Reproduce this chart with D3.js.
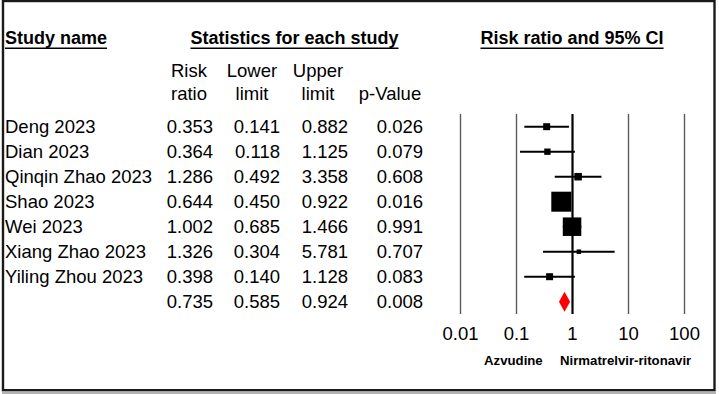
<!DOCTYPE html>
<html>
<head>
<meta charset="utf-8">
<script src="https://cdn.jsdelivr.net/npm/d3@7"></script>
<style>
  body { margin: 0; background: #fff; }
  svg text { font-family: "Liberation Sans", Arial, sans-serif; fill: #000; }
</style>
</head>
<body>
<div id="chart"></div>
<script>
// study rows
var studies = ['Deng 2023', 'Dian 2023', 'Qinqin Zhao 2023', 'Shao 2023', 'Wei 2023', 'Xiang Zhao 2023', 'Yiling Zhou 2023'];
var riskRatio = [0.353, 0.364, 1.286, 0.644, 1.002, 1.326, 0.398];
var lowerLimit = [0.141, 0.118, 0.492, 0.450, 0.685, 0.304, 0.140];
var upperLimit = [0.882, 1.125, 3.358, 0.922, 1.466, 5.781, 1.128];
var pValue = [0.026, 0.079, 0.608, 0.016, 0.991, 0.707, 0.083];
// relative weights (box area), estimated from the boxes
var weights = [5.1, 4.2, 5.9, 41.8, 35.8, 2.1, 5.1];
// pooled
var pooled = { rr: 0.735, lo: 0.585, hi: 0.924, p: 0.008 };
var tickValues = [0.01, 0.1, 1, 10, 100];
var favours = ['Azvudine', 'Nirmatrelvir-ritonavir'];

var width = 719, height = 394;
var svg = d3.select('#chart').append('svg').attr('width', width).attr('height', height);

// frame
svg.append('rect').attr('x', 3).attr('y', 1).attr('width', 711.5).attr('height', 389.2)
    .attr('fill', 'none').attr('stroke', '#1a1a1a').attr('stroke-width', 2.4);
svg.append('line').attr('x1', 2).attr('x2', 716).attr('y1', 393).attr('y2', 393)
    .attr('stroke', '#9a9a9a').attr('stroke-width', 1.5);

var fs = '18.5px';
var rowY = function (i) { return 126.7 + 25 * i; };

// header titles, underlined
function header(txt, x, anchor) {
    var t = svg.append('text').text(txt).attr('x', x).attr('y', 44.3)
        .attr('text-anchor', anchor).style('font-size', '18px').style('font-weight', 'bold');
    var b = t.node().getBBox();
    svg.append('line').attr('x1', b.x).attr('x2', b.x + b.width).attr('y1', 48.3).attr('y2', 48.3)
        .attr('stroke', '#000').attr('stroke-width', 1.5);
}
header('Study name', 5, 'start');
header('Statistics for each study', 294.5, 'middle');
header('Risk ratio and 95% CI', 572, 'middle');

// column headers
var colHead = [['Risk', 'ratio', 189], ['Lower', 'limit', 252], ['Upper', 'limit', 318], ['', 'p-Value', 390]];
colHead.forEach(function (c) {
    svg.append('text').text(c[0]).attr('x', c[2]).attr('y', 77.3).attr('text-anchor', 'middle').style('font-size', fs);
    svg.append('text').text(c[1]).attr('x', c[2]).attr('y', 100).attr('text-anchor', 'middle').style('font-size', fs);
});

// table rows
var colRight = [213, 280, 348, 423];
var rows = studies.map(function (s, i) {
    return { name: s, vals: [riskRatio[i], lowerLimit[i], upperLimit[i], pValue[i]] };
});
rows.push({ name: '', vals: [pooled.rr, pooled.lo, pooled.hi, pooled.p] });

var rowG = svg.append('g').selectAll('g').data(rows).enter().append('g')
    .attr('transform', function (d, i) { return 'translate(0,' + (rowY(i) + 6.6) + ')'; });
rowG.append('text').attr('x', 5).text(function (d) { return d.name; }).style('font-size', fs);
colRight.forEach(function (cx, k) {
    rowG.append('text').attr('x', cx).attr('text-anchor', 'end').style('font-size', fs)
        .text(function (d) { return d3.format('.3f')(d.vals[k]); });
});

// forest plot
var x = d3.scaleLog().domain([0.01, 100]).range([460, 684]);
var size = d3.scaleSqrt().domain([0, d3.max(weights)]).range([0, 20]);

var axis = d3.axisBottom(x).tickValues(tickValues).tickFormat(function (d) { return String(d); })
    .tickSizeInner(-200).tickSizeOuter(0).tickPadding(12.7);
var ax = svg.append('g').attr('transform', 'translate(0,314)').call(axis);
ax.select('.domain').remove();
ax.selectAll('.tick line').attr('stroke', function (d) { return d === 1 ? '#000' : '#5a5a5a'; })
    .attr('stroke-width', function (d) { return d === 1 ? 2.2 : 1.4; });
ax.selectAll('.tick text').style('font-size', fs).style('font-family', '"Liberation Sans", Arial, sans-serif').attr('fill', '#000');

var f = svg.append('g');
f.selectAll('.ci').data(studies).enter().append('line').attr('class', 'ci')
    .attr('x1', function (d, i) { return x(lowerLimit[i]); })
    .attr('x2', function (d, i) { return x(upperLimit[i]); })
    .attr('y1', function (d, i) { return rowY(i); })
    .attr('y2', function (d, i) { return rowY(i); })
    .attr('stroke', '#000').attr('stroke-width', 2);
f.selectAll('.box').data(studies).enter().append('rect').attr('class', 'box')
    .attr('x', function (d, i) { return x(riskRatio[i]) - size(weights[i]) / 2; })
    .attr('y', function (d, i) { return rowY(i) - size(weights[i]) / 2; })
    .attr('width', function (d, i) { return size(weights[i]); })
    .attr('height', function (d, i) { return size(weights[i]); })
    .attr('fill', '#000');

// pooled diamond
var py = rowY(7), dh = 10;
f.append('path').attr('fill', '#ff0000')
    .attr('d', 'M' + x(pooled.lo) + ',' + py + 'L' + x(pooled.rr) + ',' + (py - dh) +
        'L' + x(pooled.hi) + ',' + py + 'L' + x(pooled.rr) + ',' + (py + dh) + 'Z');

// favours labels
svg.append('text').text(favours[0]).attr('x', 542.7).attr('y', 365).attr('text-anchor', 'end')
    .style('font-size', '13.2px').style('font-weight', 'bold');
svg.append('text').text(favours[1]).attr('x', 560).attr('y', 365)
    .style('font-size', '13.2px').style('font-weight', 'bold');
</script>
</body>
</html>
